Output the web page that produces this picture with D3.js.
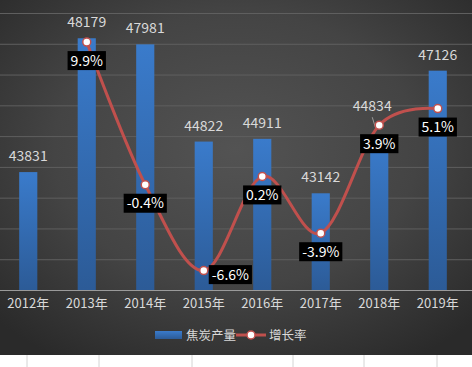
<!DOCTYPE html>
<html>
<head>
<meta charset="utf-8">
<script src="https://cdn.jsdelivr.net/npm/d3@7"></script>
<style>
  html, body { margin: 0; padding: 0; background: #fff; }
  svg { display: block; font-family: "Noto Sans CJK SC", "Noto Sans", sans-serif; }
</style>
</head>
<body>
<svg id="chart" width="472" height="367"></svg>
<script>
const years = ["2012年", "2013年", "2014年", "2015年", "2016年", "2017年", "2018年", "2019年"];
const cokeOutput = [43831, 48179, 47981, 44822, 44911, 43142, 44834, 47126];
// growth rate (%) — 2012 has no value
const growthRate = [null, 9.9, -0.4, -6.6, 0.2, -3.9, 3.9, 5.1];
const legendNames = ["焦炭产量", "增长率"];

const W = 472, H = 367;
const chartBottom = 355;
const svg = d3.select("#chart");

// background with radial gradient like the Excel dark style
const defs = svg.append("defs");
const bg = defs.append("radialGradient").attr("id", "bg")
  .attr("cx", "50%").attr("cy", "42%").attr("r", "70%");
bg.append("stop").attr("offset", "0%").attr("stop-color", "#535353");
bg.append("stop").attr("offset", "55%").attr("stop-color", "#444");
bg.append("stop").attr("offset", "100%").attr("stop-color", "#2a2a2a");

const barGrad = defs.append("linearGradient").attr("id", "barGrad")
  .attr("x1", 0).attr("y1", 0).attr("x2", 0).attr("y2", 1);
barGrad.append("stop").attr("offset", "0%").attr("stop-color", "#3a7bcb");
barGrad.append("stop").attr("offset", "100%").attr("stop-color", "#2c5b97");

// spreadsheet cells below the chart
svg.append("rect").attr("x", 0).attr("y", chartBottom).attr("width", W).attr("height", H - chartBottom).attr("fill", "#fff");
[27, 99, 192, 293, 364, 437].forEach(x => {
  svg.append("line").attr("x1", x).attr("x2", x).attr("y1", chartBottom).attr("y2", H)
    .attr("stroke", "#d4d4d4").attr("stroke-width", 1);
});

svg.append("rect").attr("width", W).attr("height", chartBottom).attr("fill", "url(#bg)");

const plot = { left: -1, right: 467, top: 13, bottom: 290 };

const x = d3.scaleBand().domain(years).range([plot.left, plot.right])
  .paddingInner(0.69).paddingOuter(0.345);
const yBar = d3.scaleLinear().domain([40000, 49000]).range([plot.bottom, plot.top]);
const yLine = d3.scaleLinear().domain([-8, 12]).range([plot.bottom, plot.top]);
const cx = d => x(d) + x.bandwidth() / 2;

// gridlines
const grid = svg.append("g").attr("transform", `translate(0,0)`)
  .call(d3.axisLeft(yBar).ticks(9).tickSize(-W).tickFormat(""));
grid.select(".domain").remove();
grid.selectAll(".tick line").attr("stroke", "#5f5f5f").attr("stroke-width", 1);
grid.selectAll(".tick").filter(d => d === 40000).remove();

// bars
svg.append("g").selectAll("rect").data(cokeOutput).join("rect")
  .attr("x", (d, i) => x(years[i]))
  .attr("y", d => yBar(d))
  .attr("width", x.bandwidth())
  .attr("height", d => plot.bottom - yBar(d))
  .attr("fill", "url(#barGrad)");

// x axis
const xAxis = svg.append("g").attr("transform", `translate(0,${plot.bottom})`)
  .call(d3.axisBottom(x).tickSize(0).tickPadding(9));
xAxis.select(".domain").attr("stroke", "#9a9a9a").attr("d", `M0,0.5H${W}`);
xAxis.selectAll("text").attr("fill", "#d9d9d9").attr("font-size", 13)
  .attr("font-family", "'Noto Sans CJK SC', sans-serif");

// bar value labels
const barLabelNudge = { 6: [-7, -19] };
const barLabels = svg.append("g");
cokeOutput.forEach((v, i) => {
  const [dx, dy] = barLabelNudge[i] || [0, 0];
  const lx = cx(years[i]) + dx, ly = yBar(v) - 11 + dy;
  if (barLabelNudge[i]) {
    barLabels.append("line")
      .attr("x1", lx).attr("y1", ly + 6)
      .attr("x2", cx(years[i]) - 3).attr("y2", yBar(v) - 11)
      .attr("stroke", "#9a9a9a").attr("stroke-width", 1);
  }
  barLabels.append("text")
    .attr("x", lx).attr("y", ly)
    .attr("text-anchor", "middle")
    .attr("fill", "#d9d9d9").attr("font-size", 14)
    .text(v);
});

// growth rate line
const linePts = growthRate.map((g, i) => ({ year: years[i], g })).filter(d => d.g !== null);
const line = d3.line()
  .x(d => cx(d.year))
  .y(d => yLine(d.g))
  .curve(d3.curveCardinal.tension(0));
svg.append("path").datum(linePts)
  .attr("d", line)
  .attr("fill", "none")
  .attr("stroke", "#c0504d")
  .attr("stroke-width", 3);

svg.append("g").selectAll("circle").data(linePts).join("circle")
  .attr("cx", d => cx(d.year))
  .attr("cy", d => yLine(d.g))
  .attr("r", 4)
  .attr("fill", "#fff")
  .attr("stroke", "#c0504d")
  .attr("stroke-width", 1.5);

// growth labels (black boxes)
const lineLabels = svg.append("g");
linePts.forEach(d => {
  const px = cx(d.year), py = yLine(d.g);
  const g = lineLabels.append("g");
  const t = g.append("text")
    .attr("fill", "#fff").attr("font-size", 14)
    .attr("text-anchor", "middle")
    .text(d.g.toFixed(1) + "%");
  const w = t.node().getComputedTextLength() + 6;
  let bx, by;
  if (d.year === "2015年") { bx = px + 5 + w / 2; by = py + 4; }
  else { bx = px; by = py + 9 + 9.5; }
  g.insert("rect", "text")
    .attr("x", bx - w / 2).attr("y", by - 9.5)
    .attr("width", w).attr("height", 19)
    .attr("fill", "#000");
  t.attr("x", bx).attr("y", by + 5);
});

// legend
const lg = svg.append("g").attr("transform", "translate(0,335)");
lg.append("rect").attr("x", 155).attr("y", -4).attr("width", 27).attr("height", 8).attr("fill", "url(#barGrad)");
lg.append("text").attr("x", 186).attr("y", 5).attr("fill", "#d9d9d9").attr("font-size", 12.5).text(legendNames[0]);
lg.append("line").attr("x1", 236).attr("x2", 266).attr("y1", 0).attr("y2", 0)
  .attr("stroke", "#c0504d").attr("stroke-width", 3);
lg.append("circle").attr("cx", 251).attr("cy", 0).attr("r", 4)
  .attr("fill", "#fff").attr("stroke", "#c0504d").attr("stroke-width", 1.5);
lg.append("text").attr("x", 269).attr("y", 5).attr("fill", "#d9d9d9").attr("font-size", 12.5).text(legendNames[1]);
</script>
</body>
</html>
